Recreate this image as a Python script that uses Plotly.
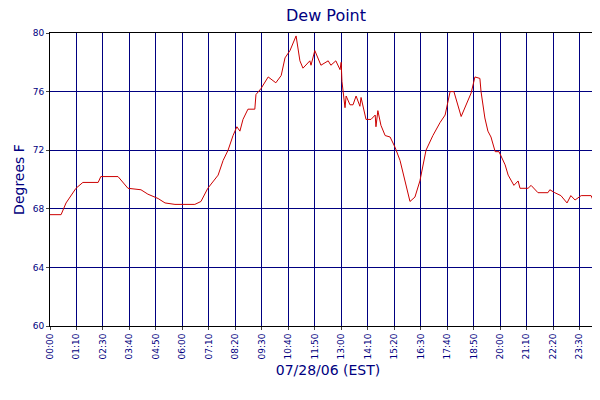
import plotly.graph_objects as go

# minutes after 00:00 on 07/28/06, dew point in deg F
minutes = [0, 29, 42, 68, 86, 126, 133, 178, 204, 238, 256, 283, 301, 327, 379, 395,
           413, 440, 453, 466, 479, 489, 497, 505, 518, 536, 539, 552, 571, 591, 605,
           615, 628, 644, 654, 662, 680, 683, 693, 709, 728, 735, 748, 759, 762, 764,
           772, 775, 785, 793, 801, 811, 814, 827, 840, 851, 853, 858, 866, 877, 890,
           903, 916, 924, 942, 955, 968, 984, 1002, 1021, 1034, 1047, 1057, 1076, 1089,
           1102, 1112, 1125, 1128, 1138, 1146, 1154, 1165, 1175, 1191, 1199, 1214, 1225,
           1230, 1251, 1259, 1277, 1303, 1308, 1321, 1337, 1353, 1363, 1374, 1390, 1416,
           1421, 1442, 1455]
dew_point = [67.6, 67.6, 68.4, 69.4, 69.8, 69.8, 70.2, 70.2, 69.4, 69.3, 69.0, 68.7, 68.4,
             68.3, 68.3, 68.5, 69.4, 70.3, 71.3, 72.0, 73.0, 73.6, 73.3, 74.1, 74.8, 74.8,
             75.8, 76.2, 77.0, 76.6, 77.1, 78.3, 78.8, 79.8, 78.1, 77.6, 78.1, 77.8, 78.8,
             77.8, 78.1, 77.8, 78.1, 77.5, 78.0, 76.7, 74.9, 75.7, 75.1, 75.1, 75.7, 75.0,
             75.6, 74.1, 74.1, 74.4, 73.6, 74.7, 73.7, 73.0, 72.9, 72.2, 71.3, 70.4, 68.5,
             68.8, 69.9, 72.0, 73.0, 73.9, 74.4, 76.0, 76.0, 74.3, 75.1, 75.9, 77.0, 76.9,
             76.0, 74.2, 73.3, 72.9, 71.9, 71.9, 71.0, 70.3, 69.6, 69.9, 69.4, 69.4, 69.6,
             69.1, 69.1, 69.3, 69.1, 68.9, 68.4, 68.9, 68.6, 68.9, 68.9, 68.6, 68.6, 68.5]

tick_labels = ["00:00", "01:10", "02:30", "03:40", "04:50", "06:00", "07:10", "08:20",
               "09:30", "10:40", "11:50", "13:00", "14:10", "15:20", "16:30", "17:40",
               "18:50", "20:00", "21:10", "22:20", "23:30", "00:15"]
tick_vals = [i * 1455 / (len(tick_labels) - 1) for i in range(len(tick_labels))]

navy = "#000080"
fig = go.Figure(go.Scatter(x=minutes, y=dew_point, mode="lines", name="Dew Point",
                           line=dict(color="#cc0000", width=1)))
fig.update_layout(
    width=600, height=400,
    margin=dict(l=42, r=2, t=25, b=82, autoexpand=False),
    paper_bgcolor="white", plot_bgcolor="white",
    font=dict(family="DejaVu Sans", size=11, color=navy),
    title=dict(text="Dew Point", x=0.53, xanchor="center", y=0.995, yanchor="top",
               font=dict(size=16, color=navy)),
    showlegend=True,
    legend=dict(orientation="h", x=0.53, xanchor="center", y=-0.24, yanchor="top",
                font=dict(size=12, color=navy)),
)
fig.update_xaxes(range=[0, 1455], tickvals=tick_vals, ticktext=tick_labels, tickangle=-90,
                 automargin=False, showgrid=True, gridcolor=navy, gridwidth=1,
                 showline=True, linecolor="black", mirror=True, ticks="outside", ticklen=3,
                 tickfont=dict(size=9),
                 title=dict(text="07/28/06 (EST)", font=dict(size=14, color=navy), standoff=6))
fig.update_yaxes(range=[60, 80], dtick=4, automargin=False, showgrid=True, gridcolor=navy,
                 gridwidth=1, showline=True, linecolor="black", mirror=True, ticks="outside",
                 ticklen=3, tickfont=dict(size=9), zeroline=False,
                 title=dict(text="Degrees F", font=dict(size=14, color=navy), standoff=4))
fig.write_html("out.html")
